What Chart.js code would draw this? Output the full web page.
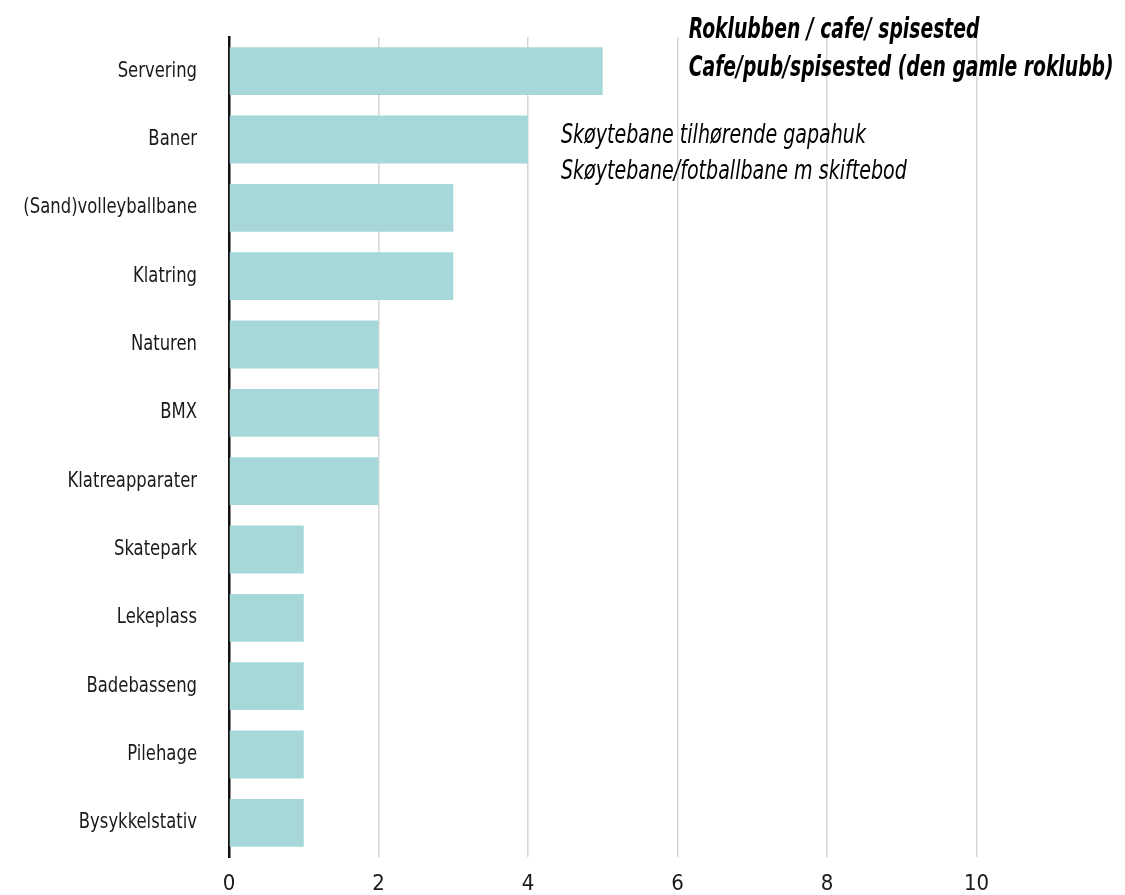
<!DOCTYPE html>
<html>
<head>
<meta charset="utf-8">
<script src="https://cdn.jsdelivr.net/npm/chart.js@4.4.1/dist/chart.umd.min.js"></script>
<style>
  html, body { margin: 0; padding: 0; background: #fff; overflow: hidden; }
  #wrap { width: 1130px; height: 895px; }
</style>
</head>
<body>
<div id="wrap"><canvas id="chart" width="1130" height="895"></canvas></div>
<script>
// data
const categories = [
  "Servering", "Baner", "(Sand)volleyballbane", "Klatring", "Naturen", "BMX",
  "Klatreapparater", "Skatepark", "Lekeplass", "Badebasseng", "Pilehage", "Bysykkelstativ",
];
const counts = [5, 4, 3, 3, 2, 2, 2, 1, 1, 1, 1, 1];
const xTicks = [0, 2, 4, 6, 8, 10];

// side notes, anchored to a category and an x value
const boldNotes = ["Roklubben / cafe/ spisested", "Cafe/pub/spisested (den gamle roklubb)"];
const italicNotes = ["Skøytebane tilhørende gapahuk", "Skøytebane/fotballbane m skiftebod"];

const FONT = "'DejaVu Sans Condensed', 'DejaVu Sans', sans-serif";
const INK = "#1a1a1a";

// the original uses a narrow face; squeeze text horizontally to get close
function narrowText(ctx, text, x, y, squeeze, align) {
  ctx.save();
  ctx.translate(x, y);
  ctx.scale(squeeze, 1);
  ctx.textAlign = align;
  ctx.fillText(text, 0, 0);
  ctx.restore();
}

const textPlugin = {
  id: "texts",
  afterDraw(chart) {
    const { ctx, scales } = chart;
    const x = scales.x, y = scales.y;
    ctx.save();
    ctx.textBaseline = "middle";

    // category labels
    ctx.fillStyle = INK;
    ctx.font = "21px " + FONT;
    categories.forEach((c, i) => narrowText(ctx, c, x.left - 32, y.getPixelForValue(i), 0.87, "right"));

    ctx.fillStyle = "#000";
    ctx.font = "italic bold 28px " + FONT;
    const bx = x.getPixelForValue(6.15);
    const by = y.getPixelForValue(0);
    boldNotes.forEach((t, i) => narrowText(ctx, t, bx, by - 40 + i * 38, 0.745, "left"));

    ctx.font = "italic 26px " + FONT;
    const ix = x.getPixelForValue(4.44);
    const iy = y.getPixelForValue(1);
    italicNotes.forEach((t, i) => narrowText(ctx, t, ix, iy - 3 + i * 36, 0.815, "left"));
    ctx.restore();
  },
};

new Chart(document.getElementById("chart"), {
  type: "bar",
  data: {
    labels: categories,
    datasets: [{
      data: counts,
      backgroundColor: "#a6d8d9",
      borderWidth: 0,
      barPercentage: 0.7,
      categoryPercentage: 1,
    }],
  },
  options: {
    indexAxis: "y",
    responsive: false,
    animation: false,
    layout: { padding: { top: 37, right: 4, bottom: 0, left: 0 } },
    plugins: { legend: { display: false }, tooltip: { enabled: false } },
    scales: {
      x: {
        min: 0,
        max: 12,
        afterBuildTicks(scale) { scale.ticks = xTicks.map((v) => ({ value: v })); },
        grid: { color: "#d6d6d6", lineWidth: 1.5, drawTicks: false },
        border: { display: false },
        ticks: { color: INK, font: { family: FONT, size: 22 }, padding: 14 },
        afterFit(scale) { scale.height = 38; },
      },
      y: {
        grid: { display: false, drawTicks: false },
        border: { display: true, color: "#111", width: 2.5 },
        ticks: { display: false },
        afterFit(scale) { scale.width = 229; },
      },
    },
  },
  plugins: [textPlugin],
});
</script>
</body>
</html>
